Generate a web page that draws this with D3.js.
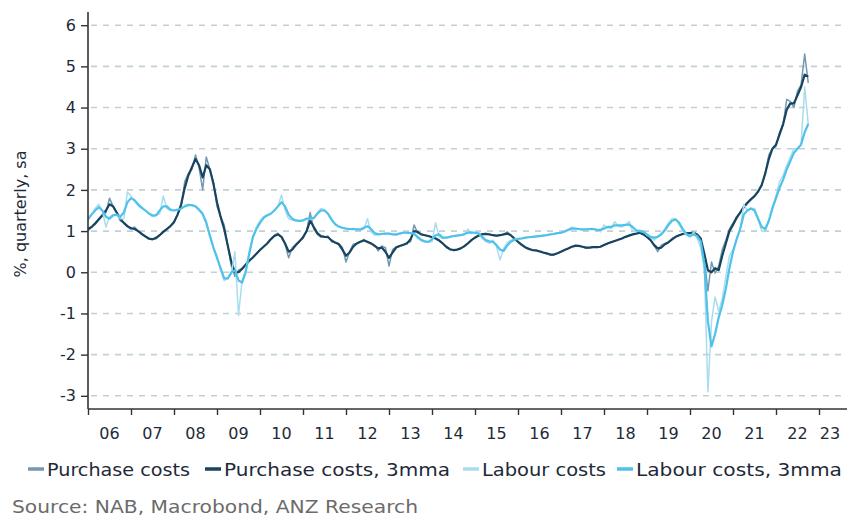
<!DOCTYPE html>
<html><head><meta charset="utf-8">
<script src="https://cdn.jsdelivr.net/npm/d3@7"></script>
<style>body{margin:0;background:#fff;} svg{display:block;}</style>
</head><body>
<svg id="c" width="847" height="517"></svg>
<script>
// Monthly data, Jan 2006 .. Oct 2022
const startYear = 2006;
const seriesNames = ["Purchase costs", "Purchase costs, 3mma", "Labour costs", "Labour costs, 3mma"];
const purchaseCosts = [
 1.0,1.1,1.2,1.3,1.4,1.45,1.8,1.6,1.45,1.25,1.2,1.1,
 1.05,1.1,1.0,0.92,0.88,0.8,0.8,0.85,0.9,1.0,1.05,1.12,
 1.2,1.4,1.6,2.2,2.4,2.5,2.85,2.55,2.0,2.8,2.5,2.2,
 1.6,1.35,1.15,0.65,0.15,-0.1,0.05,0.1,0.2,0.3,0.35,0.45,
 0.55,0.62,0.7,0.8,0.9,0.95,0.85,0.68,0.35,0.6,0.68,0.75,
 0.82,1.0,1.45,1.05,0.92,0.85,0.86,0.88,0.74,0.72,0.7,0.6,
 0.25,0.5,0.68,0.7,0.74,0.8,0.72,0.7,0.66,0.52,0.64,0.6,
 0.15,0.55,0.62,0.64,0.66,0.72,0.74,1.15,0.95,0.92,0.9,0.88,
 0.86,0.83,0.78,0.7,0.6,0.55,0.53,0.55,0.58,0.64,0.7,0.78,
 0.85,0.9,0.93,0.95,0.92,0.9,0.88,0.9,0.92,0.98,0.9,0.8,
 0.74,0.66,0.6,0.55,0.54,0.53,0.5,0.48,0.45,0.42,0.42,0.46,
 0.5,0.55,0.58,0.62,0.66,0.64,0.62,0.58,0.6,0.62,0.6,0.62,
 0.66,0.7,0.74,0.76,0.8,0.82,0.86,0.9,0.92,0.95,0.98,0.92,
 0.85,0.78,0.65,0.5,0.66,0.7,0.72,0.82,0.86,0.9,0.94,0.95,
 0.95,0.98,0.9,0.8,0.3,-0.45,0.25,-0.02,0.15,0.55,0.78,1.05,
 1.2,1.35,1.45,1.6,1.7,1.78,1.85,1.95,2.1,2.4,2.85,3.0,
 3.05,3.4,3.6,4.2,4.15,4.0,4.4,4.55,5.3,4.6
];
const purchaseCosts3mma = [
 1.05,1.1,1.18,1.28,1.38,1.5,1.65,1.6,1.45,1.3,1.2,1.12,
 1.07,1.05,1.0,0.93,0.87,0.82,0.8,0.83,0.9,0.98,1.05,1.12,
 1.22,1.4,1.65,2.05,2.35,2.55,2.75,2.6,2.3,2.6,2.5,2.15,
 1.7,1.35,1.05,0.65,0.25,0.0,0.0,0.08,0.18,0.28,0.36,0.45,
 0.54,0.62,0.7,0.8,0.88,0.92,0.86,0.7,0.5,0.55,0.66,0.75,
 0.85,1.0,1.25,1.1,0.95,0.88,0.86,0.85,0.77,0.72,0.68,0.55,
 0.4,0.48,0.62,0.7,0.74,0.77,0.74,0.7,0.64,0.58,0.6,0.5,
 0.35,0.48,0.6,0.64,0.67,0.7,0.8,1.0,0.98,0.92,0.9,0.88,
 0.85,0.82,0.77,0.7,0.62,0.56,0.54,0.55,0.58,0.63,0.7,0.78,
 0.84,0.89,0.92,0.93,0.92,0.9,0.89,0.9,0.92,0.94,0.9,0.82,
 0.74,0.67,0.61,0.57,0.54,0.53,0.51,0.48,0.46,0.43,0.43,0.46,
 0.5,0.54,0.58,0.62,0.64,0.64,0.62,0.6,0.6,0.61,0.61,0.62,
 0.66,0.7,0.73,0.76,0.79,0.82,0.86,0.89,0.92,0.94,0.96,0.92,
 0.86,0.78,0.66,0.58,0.6,0.68,0.73,0.8,0.86,0.9,0.93,0.95,
 0.95,0.96,0.92,0.82,0.45,0.05,0.0,0.1,0.05,0.4,0.7,1.0,
 1.15,1.32,1.45,1.58,1.68,1.77,1.85,1.96,2.12,2.4,2.75,3.0,
 3.1,3.35,3.6,3.95,4.1,4.1,4.3,4.5,4.8,4.75
];
const labourCosts = [
 1.25,1.4,1.55,1.65,1.5,1.1,1.35,1.4,1.38,1.3,1.3,1.95,
 1.85,1.72,1.62,1.55,1.5,1.42,1.35,1.38,1.42,1.85,1.55,1.5,
 1.5,1.52,1.55,1.62,1.65,1.63,1.6,1.5,1.4,1.25,0.85,0.6,
 0.4,0.05,-0.2,-0.15,-0.05,0.5,-1.05,-0.2,0.05,0.5,0.85,1.1,
 1.25,1.35,1.4,1.42,1.5,1.6,1.88,1.5,1.3,1.27,1.25,1.25,
 1.25,1.32,1.28,1.3,1.45,1.55,1.52,1.42,1.25,1.15,1.1,1.08,
 1.06,1.05,1.06,1.05,1.02,1.05,1.3,0.98,0.9,0.92,0.94,0.94,
 0.94,0.92,0.9,0.95,0.98,0.96,0.95,0.95,0.82,0.76,0.74,0.74,
 0.74,1.2,0.86,0.82,0.84,0.86,0.88,0.9,0.9,0.9,1.05,0.94,
 0.96,0.98,0.82,0.75,0.7,0.78,0.62,0.3,0.58,0.72,0.78,0.8,
 0.82,0.82,0.84,0.86,0.86,0.86,0.88,0.9,0.9,0.92,0.94,0.94,
 0.96,0.98,1.02,1.1,1.06,1.05,1.02,1.04,1.06,1.06,1.04,0.98,
 1.15,1.08,1.06,1.23,1.12,1.1,1.15,1.23,1.0,0.98,1.02,1.0,
 0.9,0.86,0.78,0.88,0.95,1.06,1.2,1.3,1.3,1.15,1.0,0.9,
 0.85,0.98,0.82,0.6,0.1,-2.9,-1.2,-0.6,-0.95,-0.65,-0.1,0.4,
 0.55,0.8,1.05,1.65,1.5,1.55,1.55,1.3,1.0,1.0,1.25,1.6,
 1.85,2.2,2.35,2.6,2.8,3.0,3.0,3.1,4.5,3.6
];
const labourCosts3mma = [
 1.3,1.4,1.5,1.58,1.5,1.35,1.3,1.38,1.4,1.35,1.45,1.7,
 1.8,1.75,1.65,1.57,1.5,1.43,1.38,1.38,1.5,1.6,1.6,1.52,
 1.5,1.52,1.55,1.6,1.63,1.63,1.6,1.52,1.42,1.2,0.9,0.6,
 0.35,0.1,-0.15,-0.15,0.0,0.05,-0.2,-0.25,0.0,0.45,0.85,1.05,
 1.2,1.32,1.38,1.42,1.5,1.6,1.7,1.6,1.4,1.3,1.26,1.25,
 1.26,1.3,1.3,1.32,1.42,1.5,1.5,1.42,1.28,1.17,1.11,1.08,
 1.06,1.05,1.05,1.04,1.04,1.08,1.12,1.05,0.95,0.92,0.93,0.94,
 0.94,0.92,0.92,0.94,0.96,0.96,0.95,0.93,0.86,0.79,0.75,0.74,
 0.8,0.9,0.92,0.84,0.84,0.86,0.88,0.89,0.9,0.93,0.96,0.97,
 0.96,0.94,0.86,0.78,0.75,0.74,0.66,0.55,0.52,0.65,0.74,0.79,
 0.81,0.82,0.84,0.85,0.86,0.87,0.88,0.89,0.9,0.92,0.93,0.95,
 0.96,0.99,1.03,1.06,1.06,1.05,1.04,1.04,1.05,1.05,1.03,1.03,
 1.06,1.1,1.1,1.14,1.14,1.14,1.15,1.16,1.1,1.02,1.0,0.98,
 0.92,0.86,0.84,0.86,0.92,1.02,1.15,1.25,1.28,1.2,1.05,0.93,
 0.88,0.92,0.88,0.75,0.2,-1.2,-1.8,-1.5,-1.1,-0.8,-0.4,0.1,
 0.5,0.8,1.05,1.4,1.5,1.55,1.5,1.3,1.1,1.05,1.25,1.55,
 1.8,2.05,2.25,2.5,2.7,2.9,3.0,3.1,3.4,3.6
];
const yTicks = [-3,-2,-1,0,1,2,3,4,5,6];
const xYears = d3.range(2006, 2024);
const xTickLabels = ["06","07","08","09","10","11","12","13","14","15","16","17","18","19","20","21","22","23"];
const colors = ["#7299b0", "#18445f", "#a8dcef", "#4fc1ea"];
const widths = [1.5, 2.2, 1.5, 2.2];

const svg = d3.select("#c");
const FONT = "DejaVu Sans, Verdana, sans-serif";
const pLeft = 88, pRight = 847, pTop = 12, pBottom = 409;
const x = d3.scaleLinear().domain([2006, 2006 + (pRight-pLeft)/43]).range([pLeft, pRight]);
const y = d3.scaleLinear().domain([-3.32, 6.32]).range([pBottom, pTop]);

// grid
svg.append("g").selectAll("line").data(yTicks).join("line")
  .attr("x1", pLeft + 3).attr("x2", pRight)
  .attr("y1", d => y(d)).attr("y2", d => y(d))
  .attr("stroke", "#c3cfd6").attr("stroke-width", 1.6).attr("stroke-dasharray", "6,6");

// lines
const allSeries = [purchaseCosts, purchaseCosts3mma, labourCosts, labourCosts3mma];
const line = d3.line().x((d,i) => x(startYear + i/12)).y(d => y(d));
allSeries.forEach((s, k) => {
  svg.append("path").datum(s).attr("fill","none").attr("stroke", colors[k])
    .attr("stroke-width", widths[k]).attr("stroke-linejoin","round").attr("d", line);
});

// y axis
const yAxis = svg.append("g").attr("transform", `translate(${pLeft},0)`)
  .call(d3.axisLeft(y).tickValues(yTicks).tickSize(7).tickPadding(5).tickFormat(d3.format("d")));
yAxis.select(".domain").attr("d", `M0,${pTop}V${pBottom}`).attr("stroke","#333").attr("stroke-width",1.6);
yAxis.selectAll(".tick line").attr("stroke","#333").attr("stroke-width",1.4);
yAxis.selectAll(".tick text").attr("font-family", FONT).attr("font-size", 16).attr("fill","#1e2a38")
  .text(d => d < 0 ? "-" + Math.abs(d) : d);

// x axis
const xAxis = svg.append("g").attr("transform", `translate(0,${pBottom})`)
  .call(d3.axisBottom(x).tickValues(xYears).tickSize(6).tickFormat(""));
xAxis.select(".domain").attr("d", `M${pLeft},0H${pRight}`).attr("stroke","#333").attr("stroke-width",1.6);
xAxis.selectAll(".tick line").attr("stroke","#333").attr("stroke-width",1.4);
svg.append("g").selectAll("text").data(xYears).join("text")
  .attr("x", d => Math.min(x(d + 0.5), 830)).attr("y", 439)
  .attr("text-anchor","middle").attr("font-family", FONT).attr("font-size", 16).attr("fill","#1e2a38")
  .text((d,i) => xTickLabels[i]);

// y title
svg.append("text").attr("transform","translate(26,214) rotate(-90)")
  .attr("text-anchor","middle").attr("font-family", FONT).attr("font-size", 16).attr("fill","#1e2a38")
  .text("%, quarterly, sa");

// legend
const legendX = [28, 205, 463, 617];
const legendLen = [143, 226, 124, 206];
const lg = svg.append("g");
seriesNames.forEach((n, k) => {
  lg.append("line").attr("x1", legendX[k]).attr("x2", legendX[k] + 16).attr("y1", 469).attr("y2", 469)
    .attr("stroke", colors[k]).attr("stroke-width", 3.5);
  lg.append("text").attr("x", legendX[k] + 19).attr("y", 476).attr("font-family", FONT)
    .attr("font-size", 18.5).attr("fill","#1e2a38")
    .attr("textLength", legendLen[k]).attr("lengthAdjust", "spacingAndGlyphs").text(n);
});
svg.append("text").attr("x", 12).attr("y", 513).attr("font-family", FONT).attr("font-size", 17.5)
  .attr("fill","#6b6b6b").attr("textLength", 406).attr("lengthAdjust", "spacingAndGlyphs")
  .text("Source: NAB, Macrobond, ANZ Research");
</script>
</body></html>
